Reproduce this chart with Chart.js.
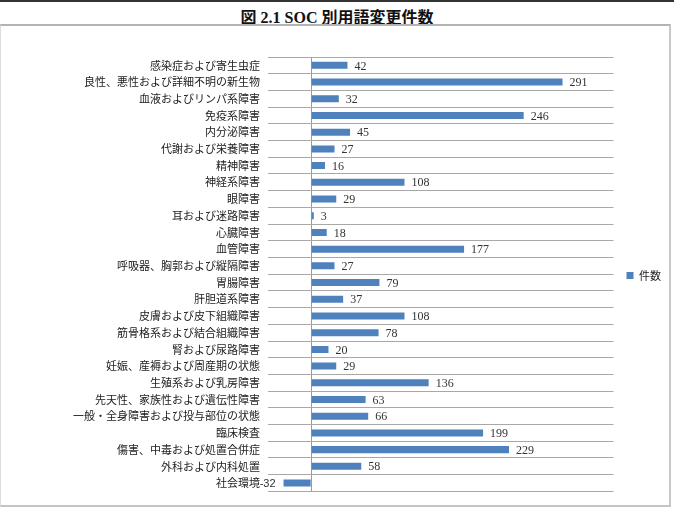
<!DOCTYPE html>
<html>
<head>
<meta charset="utf-8">
<script src="https://cdn.jsdelivr.net/npm/chart.js@4"></script>
<style>
  body { margin: 0; background: #fff; }
  #topline { position: absolute; left: 0; top: 0; width: 674px; height: 2px; background: #333; }
  #title { position: absolute; left: 0; top: 4px; width: 674px; text-align: center;
           font: bold 16px "Liberation Serif", "Noto Sans CJK JP", serif; color: #111; }
  #frame { position: absolute; left: 0; top: 24px; width: 668px; height: 479px;
           border: 1px solid #ddd; border-top: 2px solid #b3b3b3; border-bottom: 2px solid #c4c4c4; border-right: 2px solid #c8c8c8; }
  #wrap { position: absolute; left: 0; top: 25px; width: 674px; height: 481px; }
</style>
</head>
<body>
<div id="topline"></div>
<div id="title">図 2.1 SOC 別用語変更件数</div>
<div id="frame"></div>
<div id="wrap"><canvas id="grafico"></canvas></div>
<script>
// categorias (SOC) e contagens
var categorias = ['感染症および寄生虫症', '良性、悪性および詳細不明の新生物', '血液およびリンパ系障害', '免疫系障害',
  '内分泌障害', '代謝および栄養障害', '精神障害', '神経系障害', '眼障害', '耳および迷路障害', '心臓障害',
  '血管障害', '呼吸器、胸郭および縦隔障害', '胃腸障害', '肝胆道系障害', '皮膚および皮下組織障害',
  '筋骨格系および結合組織障害', '腎および尿路障害', '妊娠、産褥および周産期の状態', '生殖系および乳房障害',
  '先天性、家族性および遺伝性障害', '一般・全身障害および投与部位の状態', '臨床検査',
  '傷害、中毒および処置合併症', '外科および内科処置', '社会環境'];
var contagens = [42, 291, 32, 246, 45, 27, 16, 108, 29, 3, 18, 177, 27, 79, 37, 108, 78, 20, 29, 136, 63, 66, 199, 229, 58, -32];
var serieNome = '件数';

// escreve o valor na ponta de cada barra
var rotulos = {
  id: 'rotulos',
  afterDatasetsDraw: function (chart) {
    var ctx = chart.ctx;
    var meta = chart.getDatasetMeta(0);
    ctx.save();
    ctx.fillStyle = '#333';
    ctx.textBaseline = 'middle';
    meta.data.forEach(function (bar, i) {
      var v = contagens[i];
      if (v >= 0) {
        ctx.font = '12px "Liberation Serif", serif';
        ctx.textAlign = 'left';
        ctx.fillText(v, bar.x + 7, bar.y + 1);
      } else {
        ctx.font = '11px "Liberation Sans", sans-serif';
        ctx.textAlign = 'right';
        ctx.fillText(v, bar.x - 8, bar.y + 1);
      }
    });
    ctx.restore();
  }
};

var ctx = document.getElementById('grafico').getContext('2d');
var chart = new Chart(ctx, {
  type: 'bar',
  data: {
    labels: categorias,
    datasets: [{
      label: serieNome,
      data: contagens,
      backgroundColor: '#4F81BD',
      borderWidth: 0,
      barPercentage: 0.42,
      categoryPercentage: 1
    }]
  },
  options: {
    indexAxis: 'y',
    responsive: true,
    maintainAspectRatio: false,
    animation: false,
    layout: { padding: { top: 32, bottom: 12, left: 0, right: 3 } },
    scales: {
      x: {
        min: -50,
        max: 350,
        ticks: { display: false, stepSize: 50 },
        border: { display: false },
        grid: {
          drawTicks: false,
          color: function (c) { return c.tick && c.tick.value === 0 ? '#9a9a9a' : 'rgba(0,0,0,0)'; }
        },
        afterFit: function (s) { s.height = 0; }
      },
      y: {
        border: { display: false },
        grid: { color: '#a8a8a8', drawTicks: false, offset: true },
        ticks: {
          padding: 8,
          color: '#222',
          autoSkip: false,
          font: { family: '"Noto Sans CJK JP", sans-serif', size: 11 }
        },
        afterFit: function (s) { s.width = 268; }
      }
    },
    plugins: {
      legend: {
        position: 'right',
        labels: {
          boxWidth: 7,
          boxHeight: 7,
          padding: 13,
          color: '#222',
          font: { family: '"Noto Sans CJK JP", sans-serif', size: 11 }
        }
      },
      tooltip: { enabled: false }
    }
  },
  plugins: [rotulos]
});
</script>
</body>
</html>
